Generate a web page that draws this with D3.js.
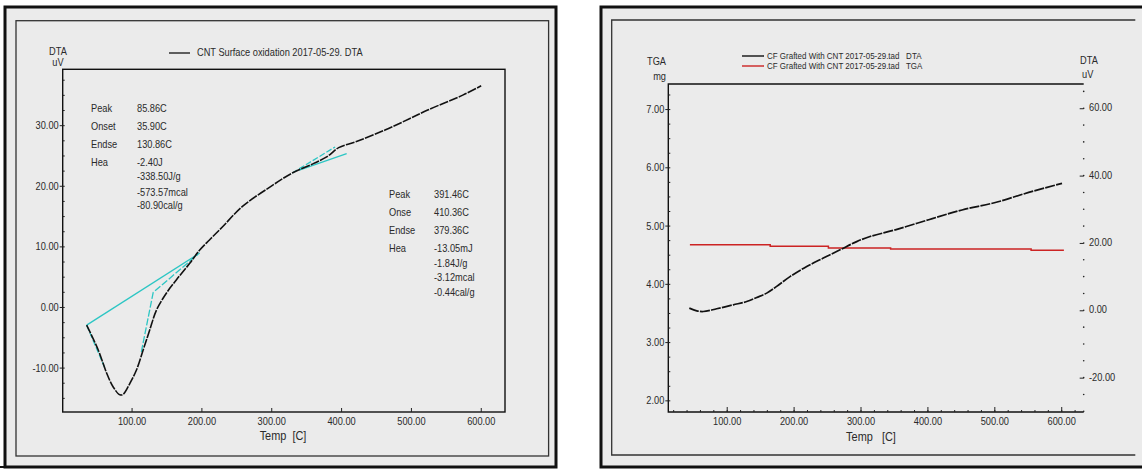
<!DOCTYPE html>
<html>
<head>
<meta charset="utf-8">
<script src="https://cdn.jsdelivr.net/npm/d3@7"></script>
<style>
  body { margin: 0; background: #fff; }
  svg text { font-family: "Liberation Sans", Arial, sans-serif; fill: #2a2a2a; }
</style>
</head>
<body>
<svg id="chart" width="1142" height="470"></svg>
<script>
// ---- left panel: CNT surface oxidation, DTA (uV) vs temp (C)
const leftTemp = [35.7, 52.3, 64.3, 73.7, 83.3, 88, 97.6, 107, 116.6, 126, 135.7, 150, 164.3, 183.3, 197.6, 211.9, 230, 258.8, 299.6, 330, 360.9, 380, 396.6, 422, 462.9, 498.6, 524, 575, 600.6];
const leftDta  = [-3.0, -7.1, -10.9, -13.2, -14.5, -14.4, -12.6, -10.4, -7.1, -3.8, -0.5, 2.3, 4.5, 7.2, 9.4, 11.1, 13.2, 16.6, 19.9, 22.1, 23.7, 24.8, 26.3, 27.3, 29.2, 31.1, 32.5, 35.0, 36.5];

// cyan construction lines (baseline + tangents)
const baseTemp = [35.7, 197.6],        baseVal = [-3.0, 8.9];
const tanDownTemp = [35.7, 61.9],      tanDownVal = [-3.0, -10.1];
const tanUpTemp = [114, 131, 195],     tanUpVal = [-7.4, 2.4, 8.7];
const tan2aTemp = [330, 391.4],        tan2aVal = [22.1, 26.4];
const tan2bTemp = [340, 408],          tan2bVal = [22.6, 25.3];

const leftYTicks = [-10, 0, 10, 20, 30];
const xTicks = [100, 200, 300, 400, 500, 600];

const peak1Labels = ["Peak", "Onset", "Endse", "Hea"];
const peak1Values = ["85.86C", "35.90C", "130.86C", "-2.40J", "-338.50J/g", "-573.57mcal", "-80.90cal/g"];
const peak2Labels = ["Peak", "Onse", "Endse", "Hea"];
const peak2Values = ["391.46C", "410.36C", "379.36C", "-13.05mJ", "-1.84J/g", "-3.12mcal", "-0.44cal/g"];

// ---- right panel: CF grafted with CNT, DTA (uV, right axis) and TGA (mg, left axis)
const rightTemp = [44.1, 55.2, 65, 85, 109.9, 129.9, 144.8, 159.8, 174.7, 194.6, 219.6, 244.4, 269.4, 294.3, 314.2, 352, 402, 451.7, 501.5, 551.4, 601.2];
const rightDta  = [0.65, -0.15, -0.36, 0.45, 1.63, 2.6, 3.8, 5.1, 7.1, 10.0, 13.0, 15.5, 17.95, 20.4, 21.9, 23.9, 26.9, 29.8, 32.0, 35.0, 37.7];
const tgaTemp = [45, 165, 252, 345, 555, 604];
const tgaMass = [4.672, 4.645, 4.615, 4.598, 4.575, 4.575];

const tgaTicks = [2, 3, 4, 5, 6, 7];
const rightDtaTicks = [-20, 0, 20, 40, 60];

const svg = d3.select("#chart");
const fmt = d => d.toFixed(2);
const zip = (a, b) => a.map((v, i) => [v, b[i]]);

// frames
function frames(x0, outerW, innerX, innerY, innerW, innerH, closeRight) {
    svg.append("rect").attr("x", x0).attr("y", 7).attr("width", outerW).attr("height", 460)
        .attr("fill", "#ebebeb").attr("stroke", "#111").attr("stroke-width", 3);
    if (closeRight) {
        svg.append("rect").attr("x", innerX).attr("y", innerY).attr("width", innerW).attr("height", innerH)
            .attr("fill", "none").attr("stroke", "#333").attr("stroke-width", 1.3);
    } else {
        svg.append("path")
            .attr("d", `M${innerX + innerW},${innerY}H${innerX}V${innerY + innerH}H${innerX + innerW}`)
            .attr("fill", "none").attr("stroke", "#333").attr("stroke-width", 1.3);
    }
}
frames(5, 551, 16, 20.7, 532.6, 435.3, true);
frames(601, 560, 611.7, 20, 523.6, 435, false);
svg.append("line").attr("x1", 0).attr("x2", 6).attr("y1", 467).attr("y2", 467).attr("stroke", "#111").attr("stroke-width", 2);

// helpers for axes
function minorRange(lo, hi, step) {
    const out = [];
    for (let v = Math.ceil(lo / step) * step; v <= hi; v += step) out.push(+v.toFixed(4));
    return out;
}
function styleAxis(g) {
    g.selectAll("path.domain").remove();
    g.selectAll("line").attr("stroke", "#222");
    g.selectAll("text").attr("font-size", 11).attr("fill", "#2a2a2a");
}

// ================= LEFT PANEL =================
const xL = d3.scaleLinear().domain([1.4, 634.7]).range([62.7, 505]);
const yL = d3.scaleLinear().domain([-17.33, 39.22]).range([412, 69.3]);

svg.append("rect").attr("x", 62.7).attr("y", 69.3).attr("width", 505 - 62.7).attr("height", 412 - 69.3)
    .attr("fill", "none").attr("stroke", "#111").attr("stroke-width", 1.4);

svg.append("g").attr("transform", "translate(62.7,0)")
    .call(d3.axisLeft(yL).tickValues(leftYTicks).tickFormat(fmt).tickSize(3).tickPadding(1))
    .call(styleAxis);
svg.append("g").attr("transform", "translate(62.7,0)")
    .call(d3.axisRight(yL).tickValues(minorRange(-17, 39, 2.5)).tickFormat("").tickSize(2))
    .call(styleAxis);
svg.append("g").attr("transform", "translate(0,412)")
    .call(d3.axisBottom(xL).tickValues(xTicks).tickFormat(fmt).tickSize(0).tickPadding(5))
    .call(styleAxis);
svg.append("g").attr("transform", "translate(0,412)")
    .call(d3.axisTop(xL).tickValues(xTicks).tickFormat("").tickSize(4))
    .call(styleAxis);

svg.append("text").attr("x", 58).attr("y", 52).attr("text-anchor", "middle").attr("dominant-baseline", "middle")
    .attr("font-size", 11).text("DTA");
svg.append("text").attr("x", 58).attr("y", 63).attr("text-anchor", "middle").attr("dominant-baseline", "middle")
    .attr("font-size", 11).text("uV");
svg.append("text").attr("x", 283).attr("y", 437).attr("text-anchor", "middle").attr("dominant-baseline", "middle")
    .attr("font-size", 13).attr("xml:space", "preserve").text("Temp  [C]");

// legend
svg.append("line").attr("x1", 169).attr("x2", 190).attr("y1", 53).attr("y2", 53).attr("stroke", "#111").attr("stroke-width", 1.3);
svg.append("text").attr("x", 197).attr("y", 53).attr("dominant-baseline", "middle").attr("font-size", 11)
    .text("CNT Surface oxidation 2017-05-29. DTA");

const lineL = d3.line().x(d => xL(d[0])).y(d => yL(d[1]));

// cyan construction lines
const cyan = "#2cc6c4";
[[baseTemp, baseVal, null], [tanDownTemp, tanDownVal, "6,2"], [tanUpTemp, tanUpVal, "7,2"],
 [tan2aTemp, tan2aVal, "6,2"], [tan2bTemp, tan2bVal, null]].forEach(([t, v, dash]) => {
    svg.append("path").attr("d", lineL(zip(t, v))).attr("fill", "none")
        .attr("stroke", cyan).attr("stroke-width", 1.3).attr("stroke-dasharray", dash);
});

svg.append("path").attr("d", lineL.curve(d3.curveCatmullRom)(zip(leftTemp, leftDta)))
    .attr("fill", "none").attr("stroke", "#111").attr("stroke-width", 1.6).attr("stroke-dasharray", "9,1.2");

// peak annotations
const rows1 = [109, 126.7, 145, 162.7, 176.7, 192.7, 206];
peak1Labels.forEach((s, i) => svg.append("text").attr("x", 91).attr("y", rows1[i])
    .attr("dominant-baseline", "middle").attr("font-size", 11).text(s));
peak1Values.forEach((s, i) => svg.append("text").attr("x", 137).attr("y", rows1[i])
    .attr("dominant-baseline", "middle").attr("font-size", 11).text(s));
const rows2 = [195, 212.7, 231, 248.7, 264.5, 278.5, 293];
peak2Labels.forEach((s, i) => svg.append("text").attr("x", 389).attr("y", rows2[i])
    .attr("dominant-baseline", "middle").attr("font-size", 11).text(s));
peak2Values.forEach((s, i) => svg.append("text").attr("x", 434).attr("y", rows2[i])
    .attr("dominant-baseline", "middle").attr("font-size", 11).text(s));

// ================= RIGHT PANEL =================
const xR = d3.scaleLinear().domain([12.7, 633.6]).range([668.3, 1083.7]);
const yTga = d3.scaleLinear().domain([1.8, 7.43]).range([412, 84]);
const yDta = d3.scaleLinear().domain([-30.2, 67.2]).range([412, 84]);

svg.append("path").attr("d", "M1083.7,84H668.3V412H1083.7").attr("fill", "none")
    .attr("stroke", "#111").attr("stroke-width", 1.4);

svg.append("g").attr("transform", "translate(668.3,0)")
    .call(d3.axisLeft(yTga).tickValues(tgaTicks).tickFormat(fmt).tickSize(3).tickPadding(1))
    .call(styleAxis);
svg.append("g").attr("transform", "translate(668.3,0)")
    .call(d3.axisRight(yTga).tickValues(minorRange(1.8, 7.4, 0.25)).tickFormat("").tickSize(2))
    .call(styleAxis);
svg.append("g").attr("transform", "translate(0,412)")
    .call(d3.axisBottom(xR).tickValues(xTicks).tickFormat(fmt).tickSize(0).tickPadding(5))
    .call(styleAxis);
svg.append("g").attr("transform", "translate(0,412)")
    .call(d3.axisTop(xR).tickValues(xTicks).tickFormat("").tickSize(5))
    .call(styleAxis);
svg.append("g").attr("transform", "translate(0,412)")
    .call(d3.axisTop(xR).tickValues(minorRange(20, 620, 20)).tickFormat("").tickSize(2))
    .call(styleAxis);

// right DTA axis: dots for minor ticks, dashes for major ones
svg.append("g").selectAll("circle").data(minorRange(-30, 67, 5)).join("circle")
    .attr("cx", 1083.7).attr("cy", d => yDta(d)).attr("r", 0.8).attr("fill", "#222");
svg.append("g").attr("transform", "translate(1083.7,0)")
    .call(d3.axisLeft(yDta).tickValues(rightDtaTicks).tickFormat("").tickSize(4))
    .call(styleAxis);
svg.append("g").selectAll("text").data(rightDtaTicks).join("text")
    .attr("x", 1089).attr("y", d => yDta(d)).attr("dominant-baseline", "middle")
    .attr("font-size", 11).text(fmt);

svg.append("text").attr("x", 666).attr("y", 62).attr("text-anchor", "end").attr("dominant-baseline", "middle")
    .attr("font-size", 11).text("TGA");
svg.append("text").attr("x", 666).attr("y", 77).attr("text-anchor", "end").attr("dominant-baseline", "middle")
    .attr("font-size", 11).text("mg");
svg.append("text").attr("x", 1080).attr("y", 61).attr("dominant-baseline", "middle")
    .attr("font-size", 11).text("DTA");
svg.append("text").attr("x", 1082).attr("y", 75).attr("dominant-baseline", "middle")
    .attr("font-size", 11).text("uV");
svg.append("text").attr("x", 871).attr("y", 438).attr("text-anchor", "middle").attr("dominant-baseline", "middle")
    .attr("font-size", 13).attr("xml:space", "preserve").text("Temp   [C]");

// legend
const legendRows = [
    { color: "#111", label: "CF Grafted With CNT 2017-05-29.tad   DTA", y: 56 },
    { color: "#cc2323", label: "CF Grafted With CNT 2017-05-29.tad   TGA", y: 66 }
];
legendRows.forEach(r => {
    svg.append("line").attr("x1", 742).attr("x2", 764).attr("y1", r.y).attr("y2", r.y)
        .attr("stroke", r.color).attr("stroke-width", 1.4);
    svg.append("text").attr("x", 767).attr("y", r.y).attr("dominant-baseline", "middle")
        .attr("font-size", 9.5).attr("xml:space", "preserve").text(r.label);
});

// TGA step line (red)
svg.append("path")
    .attr("d", d3.line().x(d => xR(d[0])).y(d => yTga(d[1])).curve(d3.curveStepAfter)(zip(tgaTemp, tgaMass)))
    .attr("fill", "none").attr("stroke", "#cc2323").attr("stroke-width", 1.5);

// DTA line (black)
svg.append("path")
    .attr("d", d3.line().x(d => xR(d[0])).y(d => yDta(d[1])).curve(d3.curveCatmullRom)(zip(rightTemp, rightDta)))
    .attr("fill", "none").attr("stroke", "#111").attr("stroke-width", 1.7).attr("stroke-dasharray", "10,1.2");

// the instrument software uses a condensed face: squeeze every text horizontally
svg.selectAll("text").each(function () {
    const w = this.getComputedTextLength();
    if (w > 0) d3.select(this).attr("textLength", w * 0.84).attr("lengthAdjust", "spacingAndGlyphs");
});
</script>
</body>
</html>
